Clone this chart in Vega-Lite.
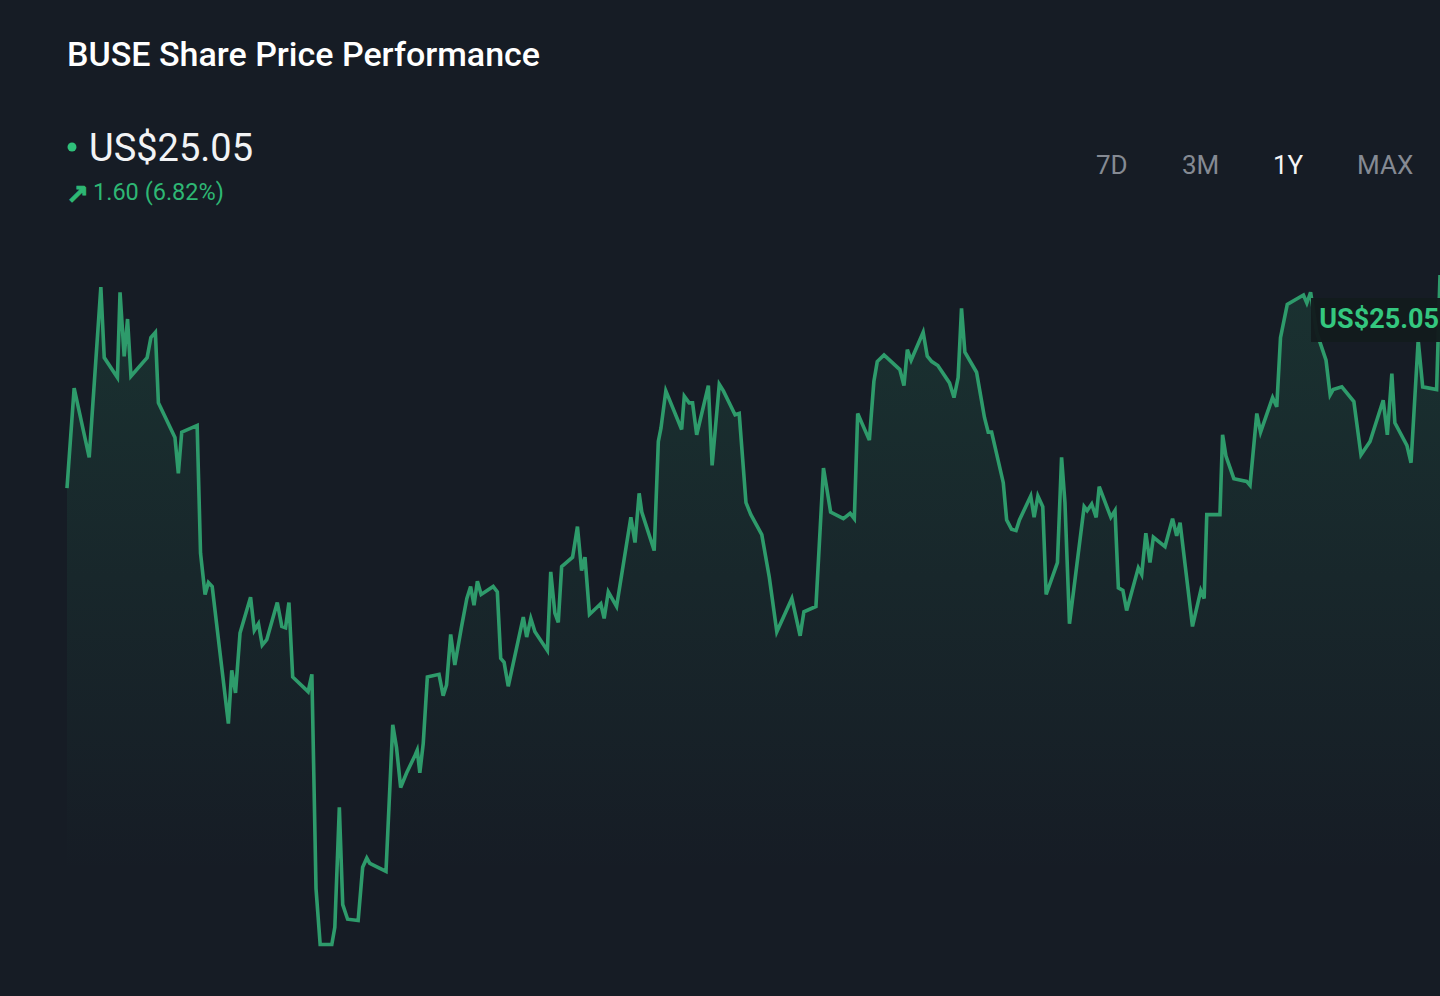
{
"$schema": "https://vega.github.io/schema/vega-lite/v6.json",
"width": 1440,
"height": 996,
"autosize": "none",
"padding": 0,
"background": "#161c25",
"datasets": {
  "prices": [
    {"day": 0, "price": 23.45}, {"day": 1.9, "price": 24.20}, {"day": 5.9, "price": 23.68}, {"day": 9.0, "price": 24.96},
    {"day": 9.9, "price": 24.43}, {"day": 13.4, "price": 24.28}, {"day": 14.1, "price": 24.92}, {"day": 15.2, "price": 24.44},
    {"day": 16.1, "price": 24.72}, {"day": 17.0, "price": 24.29}, {"day": 21.3, "price": 24.43}, {"day": 22.3, "price": 24.58},
    {"day": 23.5, "price": 24.62}, {"day": 24.3, "price": 24.09}, {"day": 28.7, "price": 23.83}, {"day": 29.6, "price": 23.56},
    {"day": 30.5, "price": 23.87}, {"day": 34.6, "price": 23.92}, {"day": 35.5, "price": 22.96}, {"day": 36.7, "price": 22.65},
    {"day": 37.6, "price": 22.74}, {"day": 38.6, "price": 22.71}, {"day": 42.9, "price": 21.68}, {"day": 43.8, "price": 22.08},
    {"day": 44.8, "price": 21.91}, {"day": 46.0, "price": 22.36}, {"day": 48.8, "price": 22.63}, {"day": 49.8, "price": 22.38},
    {"day": 50.9, "price": 22.43}, {"day": 51.9, "price": 22.27}, {"day": 53.1, "price": 22.31}, {"day": 55.9, "price": 22.59},
    {"day": 57.1, "price": 22.41}, {"day": 58.1, "price": 22.40}, {"day": 59.0, "price": 22.59}, {"day": 60.0, "price": 22.03},
    {"day": 64.1, "price": 21.92}, {"day": 65.1, "price": 22.05}, {"day": 66.2, "price": 20.44}, {"day": 67.3, "price": 20.02},
    {"day": 70.4, "price": 20.02}, {"day": 71.2, "price": 20.15}, {"day": 72.4, "price": 21.05}, {"day": 73.3, "price": 20.32},
    {"day": 74.6, "price": 20.21}, {"day": 77.4, "price": 20.20}, {"day": 78.6, "price": 20.60}, {"day": 79.7, "price": 20.67},
    {"day": 80.5, "price": 20.63}, {"day": 84.8, "price": 20.57}, {"day": 86.6, "price": 21.67}, {"day": 87.6, "price": 21.50},
    {"day": 88.7, "price": 21.20}, {"day": 90.3, "price": 21.31}, {"day": 92.5, "price": 21.44}, {"day": 93.1, "price": 21.48},
    {"day": 93.8, "price": 21.31}, {"day": 94.7, "price": 21.53}, {"day": 95.8, "price": 22.03}, {"day": 98.9, "price": 22.05},
    {"day": 100.0, "price": 21.89}, {"day": 100.9, "price": 21.97}, {"day": 102.0, "price": 22.35}, {"day": 103.1, "price": 22.12},
    {"day": 104.9, "price": 22.41}, {"day": 106.3, "price": 22.62}, {"day": 107.3, "price": 22.71}, {"day": 108.2, "price": 22.57},
    {"day": 109.1, "price": 22.75}, {"day": 110.1, "price": 22.65}, {"day": 113.3, "price": 22.71}, {"day": 114.4, "price": 22.67},
    {"day": 115.3, "price": 22.17}, {"day": 116.2, "price": 22.14}, {"day": 117.3, "price": 21.96}, {"day": 121.3, "price": 22.48},
    {"day": 122.2, "price": 22.33}, {"day": 123.3, "price": 22.47}, {"day": 124.4, "price": 22.37}, {"day": 127.7, "price": 22.23},
    {"day": 128.6, "price": 22.82}, {"day": 129.7, "price": 22.51}, {"day": 130.6, "price": 22.44}, {"day": 131.5, "price": 22.86},
    {"day": 134.4, "price": 22.93}, {"day": 135.7, "price": 23.16}, {"day": 136.8, "price": 22.83}, {"day": 137.7, "price": 22.93},
    {"day": 138.9, "price": 22.50}, {"day": 141.9, "price": 22.58}, {"day": 142.8, "price": 22.47}, {"day": 143.9, "price": 22.67},
    {"day": 146.1, "price": 22.56}, {"day": 149.9, "price": 23.23}, {"day": 151.0, "price": 23.04}, {"day": 152.1, "price": 23.41},
    {"day": 152.8, "price": 23.27}, {"day": 156.1, "price": 22.98}, {"day": 157.2, "price": 23.80}, {"day": 157.9, "price": 23.90},
    {"day": 159.2, "price": 24.18}, {"day": 163.4, "price": 23.89}, {"day": 164.1, "price": 24.14}, {"day": 165.4, "price": 24.09},
    {"day": 166.3, "price": 24.09}, {"day": 167.4, "price": 23.85}, {"day": 170.5, "price": 24.22}, {"day": 171.5, "price": 23.62},
    {"day": 173.4, "price": 24.23}, {"day": 174.5, "price": 24.18}, {"day": 177.6, "price": 24.00}, {"day": 178.7, "price": 24.01},
    {"day": 180.5, "price": 23.34}, {"day": 181.8, "price": 23.25}, {"day": 184.7, "price": 23.10}, {"day": 186.7, "price": 22.78},
    {"day": 188.7, "price": 22.37}, {"day": 192.7, "price": 22.62}, {"day": 194.9, "price": 22.34}, {"day": 195.9, "price": 22.52},
    {"day": 199.1, "price": 22.56}, {"day": 201.1, "price": 23.60}, {"day": 203.0, "price": 23.27}, {"day": 206.4, "price": 23.22},
    {"day": 208.2, "price": 23.26}, {"day": 209.3, "price": 23.22}, {"day": 210.2, "price": 24.01}, {"day": 213.3, "price": 23.81},
    {"day": 214.5, "price": 24.25}, {"day": 215.4, "price": 24.40}, {"day": 217.2, "price": 24.45}, {"day": 221.4, "price": 24.34},
    {"day": 222.5, "price": 24.22}, {"day": 223.4, "price": 24.49}, {"day": 224.4, "price": 24.41}, {"day": 227.6, "price": 24.62},
    {"day": 228.7, "price": 24.44}, {"day": 229.9, "price": 24.40}, {"day": 231.5, "price": 24.37}, {"day": 234.6, "price": 24.24},
    {"day": 235.8, "price": 24.13}, {"day": 236.9, "price": 24.28}, {"day": 237.8, "price": 24.80}, {"day": 238.7, "price": 24.47},
    {"day": 241.8, "price": 24.32}, {"day": 243.9, "price": 23.98}, {"day": 244.9, "price": 23.87}, {"day": 245.8, "price": 23.87},
    {"day": 248.9, "price": 23.49}, {"day": 249.8, "price": 23.21}, {"day": 251.1, "price": 23.14}, {"day": 252.3, "price": 23.13},
    {"day": 253.2, "price": 23.21}, {"day": 256.2, "price": 23.39}, {"day": 257.1, "price": 23.23}, {"day": 258.1, "price": 23.39},
    {"day": 259.4, "price": 23.31}, {"day": 260.3, "price": 22.65}, {"day": 263.3, "price": 22.89}, {"day": 264.4, "price": 23.68},
    {"day": 265.3, "price": 23.34}, {"day": 266.5, "price": 22.43}, {"day": 270.4, "price": 23.31}, {"day": 271.2, "price": 23.28},
    {"day": 272.4, "price": 23.33}, {"day": 273.6, "price": 23.23}, {"day": 274.4, "price": 23.46}, {"day": 277.5, "price": 23.23},
    {"day": 278.6, "price": 23.28}, {"day": 279.5, "price": 22.70}, {"day": 280.7, "price": 22.68}, {"day": 281.7, "price": 22.53},
    {"day": 284.8, "price": 22.85}, {"day": 285.7, "price": 22.80}, {"day": 286.8, "price": 23.11}, {"day": 287.9, "price": 22.89},
    {"day": 288.8, "price": 23.08}, {"day": 291.9, "price": 23.01}, {"day": 293.9, "price": 23.22}, {"day": 295.0, "price": 23.09},
    {"day": 295.9, "price": 23.19}, {"day": 299.2, "price": 22.41}, {"day": 301.4, "price": 22.68}, {"day": 302.3, "price": 22.62},
    {"day": 303.0, "price": 23.25}, {"day": 306.5, "price": 23.25}, {"day": 307.2, "price": 23.85}, {"day": 308.1, "price": 23.69},
    {"day": 310.2, "price": 23.52}, {"day": 313.6, "price": 23.50}, {"day": 314.5, "price": 23.47}, {"day": 316.3, "price": 24.01},
    {"day": 317.3, "price": 23.87}, {"day": 320.5, "price": 24.13}, {"day": 321.6, "price": 24.06}, {"day": 322.6, "price": 24.58},
    {"day": 324.4, "price": 24.83}, {"day": 328.7, "price": 24.90}, {"day": 329.6, "price": 24.84}, {"day": 330.6, "price": 24.92},
    {"day": 332.2, "price": 24.62}, {"day": 334.7, "price": 24.41}, {"day": 335.8, "price": 24.15}, {"day": 336.6, "price": 24.19},
    {"day": 338.9, "price": 24.21}, {"day": 342.1, "price": 24.10}, {"day": 344.0, "price": 23.70}, {"day": 346.4, "price": 23.80},
    {"day": 349.9, "price": 24.11}, {"day": 351.0, "price": 23.85}, {"day": 352.2, "price": 24.31}, {"day": 353.0, "price": 23.94},
    {"day": 356.2, "price": 23.77}, {"day": 357.3, "price": 23.64}, {"day": 359.2, "price": 24.56}, {"day": 360.4, "price": 24.21},
    {"day": 364.1, "price": 24.19}, {"day": 365, "price": 25.05}
  ]
},
"data": {"name": "prices"},
"encoding": {
  "x": {"field": "day", "type": "quantitative", "axis": null,
        "scale": {"domain": [-17.81, 365], "nice": false, "zero": false}},
  "y": {"field": "price", "type": "quantitative", "axis": null,
        "scale": {"domain": [19.633, 27.117], "nice": false, "zero": false}}
},
"layer": [
  {
    "mark": {
      "type": "area",
      "clip": true,
      "fill": {
        "gradient": "linear", "x1": 0, "y1": 0, "x2": 0, "y2": 1,
        "stops": [
          {"offset": 0, "color": "rgba(46,158,108,0.17)"},
          {"offset": 0.45, "color": "rgba(46,158,108,0.08)"},
          {"offset": 0.83, "color": "rgba(46,158,108,0)"}
        ]
      }
    },
    "encoding": {"y2": {"datum": 19.633}}
  },
  {
    "mark": {"type": "line", "clip": true, "color": "#2e9b6b", "strokeWidth": 3.6, "strokeJoin": "miter"}
  },
  {
    "transform": [{"filter": "datum.day == 365"}],
    "mark": {"type": "rect", "color": "#131b1d", "opacity": 0.96,
             "xOffset": -129, "x2Offset": 0, "yOffset": 23, "y2Offset": 67},
    "encoding": {"x2": {"field": "day"}, "y2": {"field": "price"}}
  },
  {
    "transform": [{"filter": "datum.day == 365"}],
    "mark": {"type": "text", "align": "right", "baseline": "middle", "dy": 45, "dx": -1,
             "font": "Roboto", "fontSize": 27, "fontWeight": "bold", "color": "#34c77f"},
    "encoding": {"text": {"value": "US$25.05"}}
  },
  {
    "data": {"values": [{"label": "BUSE Share Price Performance"}]},
    "mark": {"type": "text", "align": "left", "baseline": "alphabetic", "x": 67, "y": 66,
             "font": "Roboto", "fontSize": 34, "fontWeight": 500, "color": "#ffffff"},
    "encoding": {"x": null, "y": null, "text": {"field": "label"}}
  },
  {
    "data": {"values": [{"label": "live"}]},
    "mark": {"type": "point", "filled": true, "size": 80, "x": 72, "y": 147, "color": "#2fc07a", "opacity": 1},
    "encoding": {"x": null, "y": null}
  },
  {
    "data": {"values": [{"label": "US$25.05"}]},
    "mark": {"type": "text", "align": "left", "baseline": "alphabetic", "x": 89, "y": 161,
             "font": "Roboto", "fontSize": 38, "color": "#f2f3f5"},
    "encoding": {"x": null, "y": null, "text": {"field": "label"}}
  },
  {
    "data": {"values": [{"label": "↗"}]},
    "mark": {"type": "text", "align": "left", "baseline": "alphabetic", "x": 66, "y": 204,
             "font": "DejaVu Sans", "fontSize": 27, "fontWeight": "bold", "color": "#2eb774",
             "stroke": "#2eb774", "strokeWidth": 1},
    "encoding": {"x": null, "y": null, "text": {"field": "label"}}
  },
  {
    "data": {"values": [{"label": "1.60 (6.82%)"}]},
    "mark": {"type": "text", "align": "left", "baseline": "alphabetic", "x": 93, "y": 200,
             "font": "Roboto", "fontSize": 23.5, "color": "#2eb774"},
    "encoding": {"x": null, "y": null, "text": {"field": "label"}}
  },
  {
    "data": {"values": [{"label": "7D"}]},
    "mark": {"type": "text", "align": "left", "baseline": "alphabetic", "x": 1096, "y": 174,
             "font": "Roboto", "fontSize": 26, "color": "#858a93"},
    "encoding": {"x": null, "y": null, "text": {"field": "label"}}
  },
  {
    "data": {"values": [{"label": "3M"}]},
    "mark": {"type": "text", "align": "left", "baseline": "alphabetic", "x": 1182, "y": 174,
             "font": "Roboto", "fontSize": 26, "color": "#858a93"},
    "encoding": {"x": null, "y": null, "text": {"field": "label"}}
  },
  {
    "data": {"values": [{"label": "1Y"}]},
    "mark": {"type": "text", "align": "left", "baseline": "alphabetic", "x": 1273, "y": 174,
             "font": "Roboto", "fontSize": 26, "color": "#f5f5f5"},
    "encoding": {"x": null, "y": null, "text": {"field": "label"}}
  },
  {
    "data": {"values": [{"label": "MAX"}]},
    "mark": {"type": "text", "align": "left", "baseline": "alphabetic", "x": 1357, "y": 174,
             "font": "Roboto", "fontSize": 26, "color": "#858a93"},
    "encoding": {"x": null, "y": null, "text": {"field": "label"}}
  }
],
"config": {"view": {"stroke": null}}
}
